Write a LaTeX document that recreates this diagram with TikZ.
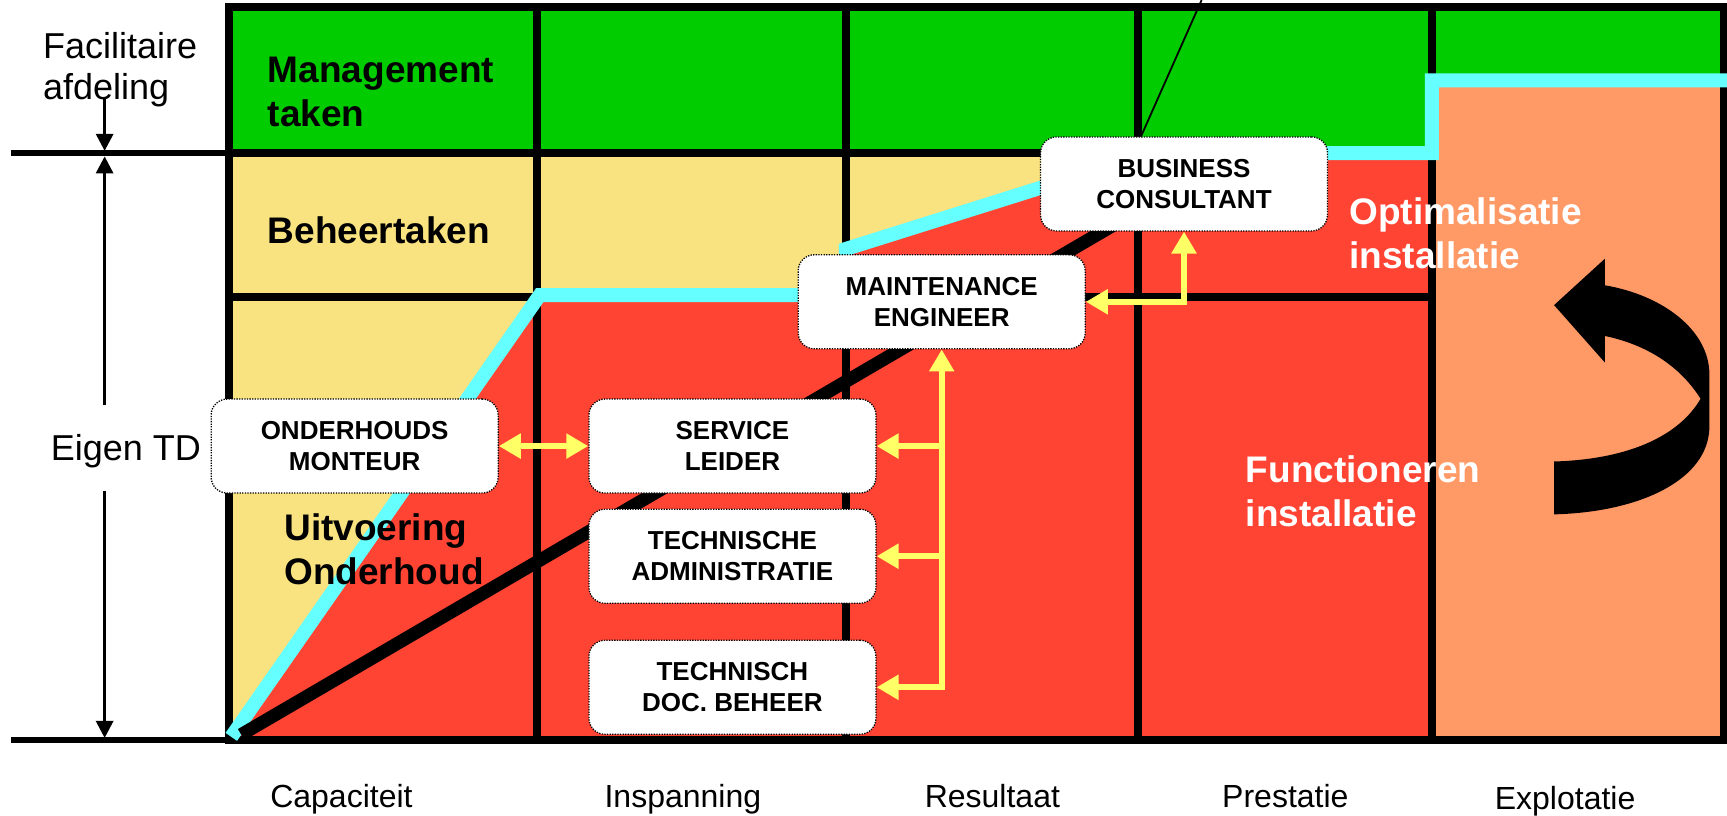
\documentclass[tikz,border=0pt]{standalone}
\usepackage{fontspec}
\setmainfont{Liberation Sans}
\usetikzlibrary{arrows.meta}
\definecolor{mgreen}{HTML}{00CC00}
\definecolor{byellow}{HTML}{F9E280}
\definecolor{rred}{HTML}{FF4433}
\definecolor{oorange}{HTML}{FF9966}
\definecolor{ccyan}{HTML}{66FFFF}
\definecolor{aryellow}{HTML}{FFFF66}
\pgfdeclarelayer{back}
\pgfsetlayers{back,main}

\begin{document}
\begin{tikzpicture}[x=1.1014pt,y=-1.1014pt,
  grid/.style={line width=8pt},
  guide/.style={line width=5.5pt},
  cyanline/.style={draw=ccyan, line width=14pt, line join=miter},
  role/.style={draw, fill=white, rounded corners=16pt, line width=1.3pt,
    dash pattern=on 1.3pt off 1.3pt, minimum width=287pt, minimum height=94pt,
    inner sep=0pt, align=center, font=\fontsize{26}{31}\selectfont\bfseries},
  link/.style={draw=aryellow, line width=6pt, line join=miter,
    arrows={-Triangle[width=24pt,length=22pt]}},
  link2/.style={link, arrows={Triangle[width=24pt,length=22pt]-Triangle[width=24pt,length=22pt]}},
  meas/.style={line width=3pt, -{Triangle[width=17pt,length=17pt]}},
  lbl/.style={font=\fontsize{36}{41}\selectfont, align=left},
  area/.style={font=\fontsize{37}{44}\selectfont\bfseries, align=left},
  phase/.style={font=\fontsize{32}{40}\selectfont, anchor=base}
]
\useasboundingbox (0,0) rectangle (1568,740);

% role boxes
\node[role] (OM)  at (322,405)  {ONDERHOUDS\\MONTEUR};
\node[role] (SL)  at (665,405)  {SERVICE\\LEIDER};
\node[role] (TA)  at (665,505)  {TECHNISCHE\\ADMINISTRATIE};
\node[role] (TDB) at (665,624)  {TECHNISCH\\DOC. BEHEER};
\node[role] (ME)  at (855,274)  {MAINTENANCE\\ENGINEER};
\node[role] (BC)  at (1075,167) {BUSINESS\\CONSULTANT};

% boundary between the task levels
\coordinate (c0) at (210,669);
\coordinate (c1) at (490,268);
\coordinate (c2) at (768,268);
\coordinate (c3) at (768,226);
\coordinate (c4) at (1045,139);
\coordinate (c5) at (1300,139);
\coordinate (c6) at (1300,73);
\coordinate (c7) at (1568,73);

\coordinate (d0) at (219,667);
\coordinate (tt) at (1091,0);
\coordinate (tb) at (1031,135);

\begin{pgfonlayer}{back}
  % coloured areas
  \fill[mgreen] (208,6) rectangle (1565,672);
  \fill[byellow] (208,139) -- (c4) -- (c3) -- (c2) -- (c1) -- (c0) -- (208,672) -- cycle;
  \fill[rred] (c0) -- (c1) -- (c2) -- (c3) -- (c4) -- (c5) -- (1300,672) -- cycle;
  \fill[oorange] (c6) -- (1565,73) -- (1565,672) -- (1300,672) -- cycle;
  % grid
  \draw[grid, line join=miter] (208,6) rectangle (1565,672);
  \foreach \x in {488,768,1033,1300} \draw[grid] (\x,6) -- (\x,672);
  \draw[grid] (208,139) -- (1300,139);
  \draw[grid] (208,270) -- (1300,270);
  \draw[guide] (10,139) -- (208,139);
  \draw[guide] (10,672) -- (208,672);
  % level boundary
  \draw[cyanline] (c0) -- (c1) -- (c2) -- (c3) -- (c4) -- (c5) -- (c6) -- (c7);
  % growth line
  \draw[line width=13pt] (d0) -- (BC.center);
  \draw[line width=1.8pt] (tt) -- (tb);
  % cycle arrow
  \fill (1411,277) -- (1457,235) -- (1457,259)
    .. controls (1510,268) and (1552,300) .. (1552,340) -- (1552,387)
    .. controls (1552,435) and (1490,465) .. (1411,467) -- (1411,419)
    .. controls (1480,417) and (1525,395) .. (1544,362)
    .. controls (1525,332) and (1495,313) .. (1457,305) -- (1457,329) -- cycle;
\end{pgfonlayer}

% yellow links
\draw[link2] (OM.east) -- (SL.west);
\draw[link2] (TDB.east) -| (ME.south);
\draw[link] (SL.east -| ME.south) -- (SL.east);
\draw[link] (TA.east -| ME.south) -- (TA.east);
\draw[link2] (ME.east) -| (BC.south);

% left scale
\node[lbl, anchor=base west] (fac) at (36,90) {Facilitaire\\afdeling};
\node[lbl, anchor=base west] (eig) at (43,418) {Eigen TD};
\coordinate (f0) at (95,90);
\coordinate (f1) at (95,137);
\coordinate (e0) at (95,368);
\coordinate (e1) at (95,142);
\coordinate (e2) at (95,446);
\coordinate (e3) at (95,670);
\draw[meas] (f0) -- (f1);
\draw[meas] (e0) -- (e1);
\draw[meas] (e2) -- (e3);

% area labels
\node[area, anchor=base west] (mt) at (240,115) {Management\\taken};
\node[area, anchor=base west] (bt) at (240,221) {Beheertaken};
\node[area, anchor=base west] (uo) at (255,531) {Uitvoering\\Onderhoud};
\node[area, anchor=base west, text=white] (oi) at (1222,244) {Optimalisatie\\installatie};
\node[area, anchor=base west, text=white] (fi) at (1128,478) {Functioneren\\installatie};

% phases
\node[phase] (p1) at (310,733) {Capaciteit};
\node[phase] (p2) at (620,733) {Inspanning};
\node[phase] (p3) at (901,733) {Resultaat};
\node[phase] (p4) at (1167,733) {Prestatie};
\node[phase] (p5) at (1421,735) {Explotatie};
\end{tikzpicture}
\end{document}
